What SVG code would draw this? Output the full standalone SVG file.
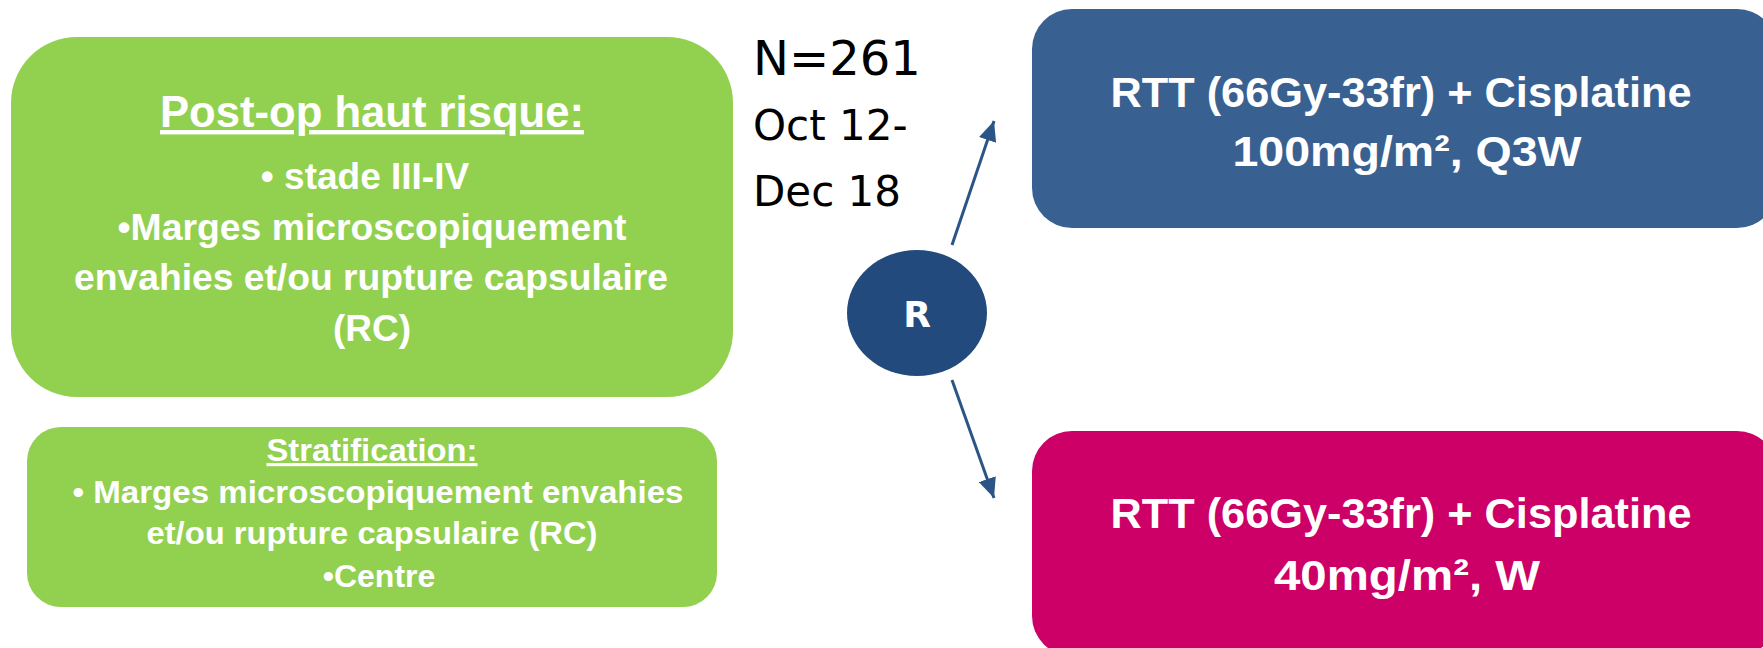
<svg xmlns="http://www.w3.org/2000/svg" width="1763" height="648" viewBox="0 0 1763 648">
<style>
.t{font-family:"Liberation Sans",Arial,sans-serif;font-weight:bold;fill:#fff;text-anchor:middle}
.n{font-family:"DejaVu Sans",Verdana,sans-serif;fill:#000}
.green{fill:#92D050}
.conn{stroke:#2B5587;stroke-width:3;fill:none}
</style>
<defs>
<marker id="arr" viewBox="0 0 20 18" refX="20" refY="9" markerWidth="20" markerHeight="18" markerUnits="userSpaceOnUse" orient="auto">
<path d="M0,0 L20,9 L0,18 z" fill="#2B5587"/>
</marker>
</defs>
<rect width="1763" height="648" fill="#fff"/>

<g id="box-postop">
<rect class="green" x="11" y="37" width="722" height="360" rx="66" ry="66"/>
<text class="t" x="372" y="127" font-size="44" text-decoration="underline" textLength="424" lengthAdjust="spacingAndGlyphs">Post-op haut risque:</text>
<text class="t" x="365" y="189" font-size="37">• stade III-IV</text>
<text class="t" x="372" y="240" font-size="37" textLength="509" lengthAdjust="spacingAndGlyphs">•Marges microscopiquement</text>
<text class="t" x="371" y="290" font-size="37" textLength="594" lengthAdjust="spacingAndGlyphs">envahies et/ou rupture capsulaire</text>
<text class="t" x="372" y="341" font-size="37">(RC)</text>
</g>

<g id="box-strat">
<rect class="green" x="27" y="427" width="690" height="180" rx="34" ry="34"/>
<text class="t" x="372" y="461" font-size="32" text-decoration="underline" textLength="211" lengthAdjust="spacingAndGlyphs">Stratification:</text>
<text class="t" x="378" y="503" font-size="32" textLength="611" lengthAdjust="spacingAndGlyphs">• Marges microscopiquement envahies</text>
<text class="t" x="372" y="544" font-size="32" textLength="451" lengthAdjust="spacingAndGlyphs">et/ou rupture capsulaire (RC)</text>
<text class="t" x="379" y="587" font-size="32">•Centre</text>
</g>

<g id="label-n">
<text class="n" x="753" y="75" font-size="48">N=261</text>
<text class="n" x="753" y="140" font-size="42">Oct 12-</text>
<text class="n" x="753" y="206" font-size="42">Dec 18</text>
</g>

<g id="node-r">
<ellipse cx="917" cy="313" rx="70" ry="63" fill="#224A7C"/>
<text x="917" y="327" font-family="'DejaVu Sans',Verdana,sans-serif" font-weight="bold" font-size="36" fill="#fff" text-anchor="middle">R</text>
</g>

<g id="box-arm1">
<rect x="1032" y="9" width="745" height="219" rx="40" ry="40" fill="#386192"/>
<text class="t" x="1401" y="107" font-size="43" textLength="581" lengthAdjust="spacingAndGlyphs">RTT (66Gy-33fr) + Cisplatine</text>
<text class="t" x="1407" y="166" font-size="43" textLength="349" lengthAdjust="spacingAndGlyphs">100mg/m², Q3W</text>
</g>

<g id="box-arm2">
<rect x="1032" y="431" width="745" height="225" rx="40" ry="40" fill="#CC0066"/>
<text class="t" x="1401" y="528" font-size="43" textLength="581" lengthAdjust="spacingAndGlyphs">RTT (66Gy-33fr) + Cisplatine</text>
<text class="t" x="1407" y="590" font-size="43" textLength="266" lengthAdjust="spacingAndGlyphs">40mg/m², W</text>
</g>

<g id="connectors">
<line class="conn" x1="952" y1="245" x2="994" y2="121" marker-end="url(#arr)"/>
<line class="conn" x1="952" y1="380" x2="994" y2="498" marker-end="url(#arr)"/>
</g>
</svg>
